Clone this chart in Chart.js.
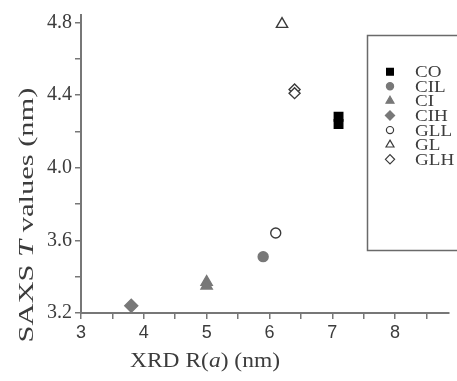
<!DOCTYPE html>
<html><head><meta charset="utf-8">
<script src="https://cdn.jsdelivr.net/npm/chart.js@4/dist/chart.umd.min.js"></script>
<style>html,body{margin:0;padding:0;background:#fff}#wrap{width:457px;height:381px}</style>
</head><body><div id="wrap"><canvas id="c" width="457" height="381"></canvas></div>
<script>
// ---- data ----
const seriesNames = ['CO', 'CIL', 'CI', 'CIH', 'GLL', 'GL', 'GLH'];
const coX = [7.1, 7.1],   coY = [4.28, 4.24];
const cilX = [5.9],       cilY = [3.51];
const ciX = [5.0, 5.0],   ciY = [3.37, 3.35];
const cihX = [3.8],       cihY = [3.24];
const gllX = [6.1],       gllY = [3.64];
const glX = [6.2],        glY = [4.79];
const glhX = [6.4, 6.4],  glhY = [4.43, 4.41];
const xTicks = [3, 3.5, 4, 4.5, 5, 5.5, 6, 6.5, 7, 7.5, 8, 8.5];
const xTickLabels = ['3', '4', '5', '6', '7', '8'];
const yTicks = [3.2, 3.4, 3.6, 3.8, 4.0, 4.2, 4.4, 4.6, 4.8];
const yTickLabels = ['3.2', '3.6', '4.0', '4.4', '4.8'];

const xs = [coX, cilX, ciX, cihX, gllX, glX, glhX];
const ys = [coY, cilY, ciY, cihY, gllY, glY, glhY];

// ---- styles ----
const SERIF = '"Liberation Serif"';
const SANS = '"Liberation Sans"';
const TXT = '#3c3c3c';
const GRAY = '#787878', DARK = '#3a3a3a';
const styles = [
  {ps: 'rect',     r: 6,   fill: '#000', stroke: '#000', lr: 4.8},
  {ps: 'circle',   r: 5,   fill: GRAY,   stroke: GRAY,   lr: 3.6},
  {ps: 'triangle', r: 6.5, fill: GRAY,   stroke: GRAY,   lr: 4.6},
  {ps: 'rectRot',  r: 6.5, fill: GRAY,   stroke: GRAY,   lr: 4.6},
  {ps: 'circle',   r: 5,   fill: '#fff', stroke: DARK,   lr: 3.6},
  {ps: 'triangle', r: 6.5, fill: '#fff', stroke: DARK,   lr: 4.6},
  {ps: 'rectRot',  r: 5.5, fill: '#fff', stroke: DARK,   lr: 4.6}
];

const datasets = seriesNames.map((n, i) => ({
  label: n,
  data: xs[i].map((x, k) => ({x: x, y: ys[i][k]})),
  pointStyle: styles[i].ps,
  pointRadius: styles[i].r,
  pointHoverRadius: styles[i].r,
  backgroundColor: styles[i].fill,
  borderColor: styles[i].stroke,
  borderWidth: 1.4,
  showLine: false
}));

function measureRich(ctx, parts, size) {
  let total = 0;
  const ws = parts.map(p => { ctx.font = p[1] + size + 'px ' + SERIF; const w = ctx.measureText(p[0]).width; total += w; return w; });
  return {total, ws};
}
function paintRich(ctx, parts, size, ws, startX) {
  let x = startX;
  parts.forEach((p, i) => { ctx.font = p[1] + size + 'px ' + SERIF; ctx.fillText(p[0], x, 0); x += ws[i]; });
}

const deco = {
  id: 'deco',
  afterDraw(chart) {
    const ctx = chart.ctx;
    ctx.save();
    ctx.fillStyle = TXT;
    ctx.textBaseline = 'middle';
    ctx.textAlign = 'left';
    // y title
    const yParts = [['SAXS ', ''], ['T', 'italic '], [' values (nm)', '']];
    let m = measureRich(ctx, yParts, 22);
    ctx.save();
    ctx.translate(27, 215);
    ctx.rotate(-Math.PI / 2);
    ctx.scale(255 / m.total, 1);
    paintRich(ctx, yParts, 22, m.ws, -m.total / 2);
    ctx.restore();
    // x title
    const xParts = [['XRD R(', ''], ['a', 'italic '], [') (nm)', '']];
    m = measureRich(ctx, xParts, 22);
    ctx.save();
    ctx.translate(205, 361);
    ctx.scale(150 / m.total, 1);
    paintRich(ctx, xParts, 22, m.ws, -m.total / 2);
    ctx.restore();
    // legend
    ctx.strokeStyle = '#6a6a6a';
    ctx.lineWidth = 1.5;
    ctx.strokeRect(367.5, 35.5, 120, 215);
    const H = Chart.helpers;
    chart.data.datasets.forEach((ds, i) => {
      const yy = 71.7 + i * 14.6;
      ctx.fillStyle = ds.backgroundColor;
      ctx.strokeStyle = ds.borderColor;
      ctx.lineWidth = 1.2;
      H.drawPoint(ctx, {pointStyle: ds.pointStyle, radius: styles[i].lr, borderWidth: 1.2, rotation: 0}, 390, yy);
      ctx.fillStyle = TXT;
      ctx.font = '17px ' + SERIF;
      ctx.textBaseline = 'middle';
      ctx.save();
      ctx.translate(415, yy + 1);
      ctx.scale(1.12, 1);
      ctx.fillText(ds.label, 0, 0);
      ctx.restore();
    });
    ctx.restore();
  }
};

new Chart(document.getElementById('c'), {
  type: 'scatter',
  data: {datasets},
  plugins: [deco],
  options: {
    responsive: false,
    animation: false,
    devicePixelRatio: 1,
    layout: {padding: {top: 14, right: 0, left: 0, bottom: 0}},
    plugins: {legend: {display: false}, tooltip: {enabled: false}},
    scales: {
      x: {
        type: 'linear', min: 3, max: 8.86,
        afterBuildTicks: s => { s.ticks = xTicks.map(v => ({value: v})); },
        afterFit: s => { s.height = 68; },
        ticks: {
          autoSkip: false, maxRotation: 0, padding: 3,
          color: TXT,
          font: {family: SANS, size: 18},
          callback: v => xTickLabels.includes(String(v)) ? String(v) : ''
        },
        grid: {drawOnChartArea: false, drawTicks: true, tickLength: 6, color: '#777', lineWidth: 1.5},
        border: {color: '#777', width: 2}
      },
      y: {
        type: 'linear', min: 3.2, max: 4.84,
        afterBuildTicks: s => { s.ticks = yTicks.map(v => ({value: v})); },
        afterFit: s => { s.width = 81; },
        ticks: {
          autoSkip: false, padding: 3,
          color: TXT,
          font: {family: SERIF, size: 20},
          callback: v => { const t = Number(v).toFixed(1); return yTickLabels.includes(t) ? t : ''; }
        },
        grid: {drawOnChartArea: false, drawTicks: true, tickLength: 6, color: '#777', lineWidth: 1.5},
        border: {color: '#777', width: 2}
      }
    }
  }
});
</script></body></html>
